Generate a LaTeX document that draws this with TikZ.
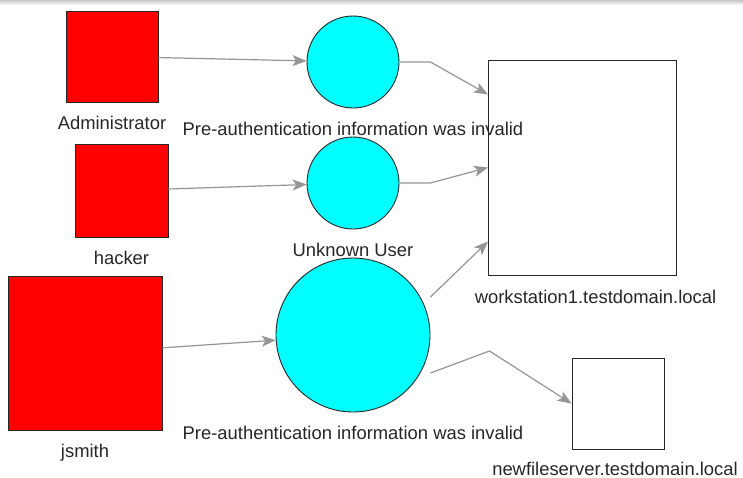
\documentclass[tikz,border=0pt]{standalone}
\usepackage{fontspec}
\setmainfont{Liberation Sans}
\usepackage{xcolor}
\usetikzlibrary{positioning,arrows.meta,calc}
\definecolor{userred}{HTML}{FF0000}
\definecolor{evcyan}{HTML}{00FFFF}
\definecolor{wire}{HTML}{959595}
\definecolor{ink}{HTML}{262626}

\begin{document}
\begin{tikzpicture}[x=1pt, y=-1pt,
    font=\fontsize{18.4}{22}\selectfont,
    every label/.style={inner sep=0pt, text=ink},
    label distance=14pt,
    user/.style={draw=ink, fill=userred, line width=0.9pt, inner sep=0pt},
    event/.style={circle, draw=ink, fill=evcyan, line width=0.9pt, inner sep=0pt},
    host/.style={draw=ink, line width=1pt, inner sep=0pt},
    link/.style={draw=wire, line width=1.2pt, -{Stealth[length=14pt, width=11pt, inset=3.5pt]}}]
  \useasboundingbox (0,0) rectangle (743,477);
  \shade[top color=gray!45, bottom color=white] (0,0) rectangle (743,5);

  % accounts
  \node[user, minimum width=92pt, minimum height=91pt, label=below:Administrator] (admin) at (112,56.5) {};
  \node[user, minimum size=93pt, label=below:hacker] (hacker) at (121.5,190.5) {};
  \node[user, minimum size=154pt, label=below:jsmith] (jsmith) at (85,353) {};

  % failure reasons
  \node[event, minimum size=92pt, label=below:Pre-authentication information was invalid] (ev1) at (353,62) {};
  \node[event, minimum size=92pt, label=below:Unknown User] (ev2) at (353,183) {};
  \node[event, minimum size=154pt, label=below:Pre-authentication information was invalid] (ev3) at (353,335) {};

  % machines
  \node[host, minimum width=188pt, minimum height=215pt, label={[xshift=13pt]below:workstation1.testdomain.local}] (ws) at (582.5,167.5) {};
  \node[host, minimum width=92pt, minimum height=91pt, label={[xshift=-3pt, label distance=12pt]below:newfileserver.testdomain.local}] (nfs) at (618,403.5) {};

  \draw[link] (admin) -- (ev1);
  \draw[link] (hacker) -- (ev2);
  \draw[link] (jsmith) -- (ev3);
  \draw[link] (ev1.east) -- ++(31,0) -- ($(ws.north west)+(0,35)$);
  \draw[link] (ev2.east) -- ++(31,0) -- (ws.west);
  \draw[link] ($(ev3.east)+(0,-38)$) -- ($(ws.south west)+(0,-34)$);
  \draw[link] ($(ev3.east)+(0,38)$) -- ++(59,-22) -- (nfs.west);
\end{tikzpicture}
\end{document}
